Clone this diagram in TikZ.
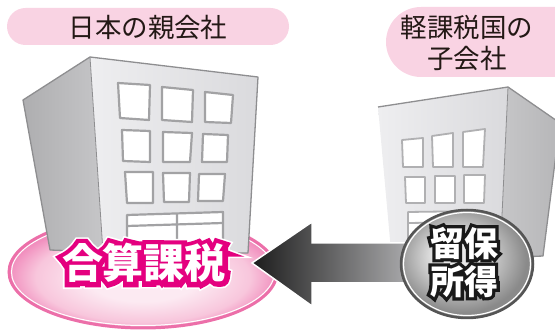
\documentclass[tikz,border=0pt]{standalone}
\usepackage{fontspec}
\newfontfamily\jp{Noto Sans CJK JP}
% stroked variants used for the outlined captions
\newfontfamily\jpthick{Noto Sans CJK JP}[BoldFeatures={FakeBold=23}]
\newfontfamily\jphalo{Noto Sans CJK JP}[BoldFeatures={FakeBold=31}]
\newfontfamily\jpdisc{Noto Sans CJK JP}[BoldFeatures={FakeBold=19}]
\usetikzlibrary{calc}

\definecolor{pillpink}{HTML}{F9D3E3}
\definecolor{inkdark}{HTML}{231815}
\definecolor{magentaink}{HTML}{E4007F}
\definecolor{ringpink}{HTML}{EC6FA9}
\definecolor{glowA}{HTML}{FCEAF2}
\definecolor{glowB}{HTML}{F8C6DC}
\definecolor{glowC}{HTML}{F18FBE}
\definecolor{wallA}{HTML}{EEEEF0}
\definecolor{wallB}{HTML}{DADADD}
\definecolor{sideA}{HTML}{AEAEB0}
\definecolor{sideB}{HTML}{C6C6C8}
\definecolor{edgegray}{HTML}{8E8E90}
\definecolor{framegray}{HTML}{A2A2A4}
\definecolor{arrowdark}{HTML}{1C1C1C}
\definecolor{arrowlight}{HTML}{B4B4B6}
\definecolor{discA}{HTML}{E8E8E8}
\definecolor{discB}{HTML}{8A8A8A}
\definecolor{discring}{HTML}{555555}

\pgfdeclareradialshading{pinkglow}{\pgfpoint{0bp}{-4bp}}{%
  color(0bp)=(glowA); color(10bp)=(glowA); color(20bp)=(glowB);
  color(25bp)=(glowC); color(50bp)=(glowC)}
\pgfdeclareradialshading{graydisc}{\pgfpoint{-5bp}{5bp}}{%
  color(0bp)=(discA); color(8bp)=(discA); color(25bp)=(discB);
  color(50bp)=(discB)}

\tikzset{
  label text/.style={font=\jp\fontsize{26.5}{31}\selectfont, text=inkdark,
    align=center, inner sep=0pt},
  bldg edge/.style={draw=edgegray, line width=1.3pt, line join=round},
  win/.style={draw=framegray, line width=2.2pt, fill=white, line join=round},
  winsmall/.style={draw=framegray!85, line width=1.8pt, fill=white, line join=round},
  tax text/.style={inner sep=0pt},
  disc text/.style={inner sep=0pt, align=center},
}

\begin{document}
\begin{tikzpicture}[x=1pt, y=-1pt]
\useasboundingbox (0,0) rectangle (555,331);
\clip (0,0) rectangle (555,331);

% ---- heading pills ----
\fill[pillpink, rounded corners=18.5pt] (7,8) rectangle (289,45);
\node[label text] (parentlbl) at (148,27) {日本の親会社};
\fill[pillpink, rounded corners=35pt] (386,7) rectangle (620,77);
\node[label text] (sublbl) at (467,43) {軽課税国の\\子会社};

% ---- pink base under the parent company ----
\shade[shading=pinkglow] (143,272) ellipse [x radius=134, y radius=56];
\draw[ringpink, line width=3pt] (143,272) ellipse [x radius=134, y radius=56];
\draw[white, line width=1pt] (143,272) ellipse [x radius=131.5, y radius=53.5];

% ---- parent company building ----
\shade[left color=sideA, right color=sideB] (23,100) -- (90,57) -- (103,252) -- (50,250) -- cycle;
\shade[left color=wallA, right color=wallB] (90,57) -- (258,77) -- (248,253) -- (103,252) -- cycle;
\draw[bldg edge] (23,100) -- (90,57) -- (258,77) -- (248,253) -- (103,252) -- (50,250) -- cycle;
\draw[bldg edge, line width=0.8pt] (90,57) -- (103,252);
% windows
\draw[win] (118,83) -- (150,85) -- (149,120) -- (120,118) -- cycle;
\draw[win] (162,87) -- (193,90) -- (192,122) -- (162,120) -- cycle;
\draw[win] (205,92) -- (233,95) -- (231,123) -- (205,122) -- cycle;
\draw[win] (122,130) -- (150,131) -- (150,162) -- (123,161) -- cycle;
\draw[win] (163,132) -- (192,133) -- (190,162) -- (163,162) -- cycle;
\draw[win] (203,134) -- (228,135) -- (227,162) -- (202,162) -- cycle;
\draw[win] (125,172) -- (153,172) -- (153,203) -- (127,203) -- cycle;
\draw[win] (163,173) -- (190,173) -- (189,202) -- (164,202) -- cycle;
\draw[win] (199,174) -- (225,174) -- (223,201) -- (198,201) -- cycle;
% entrance
\draw[win] (127,215) -- (223,212) -- (223,252) -- (127,252) -- cycle;
\draw[framegray, line width=2.2pt] (127,226) -- (223,223) (177,214) -- (177,252);

% ---- subsidiary building ----
\shade[left color=sideB, right color=sideA!90] (508,87) -- (560,123) -- (543,256) -- (500,258) -- cycle;
\shade[left color=wallA, right color=wallB] (378,107) -- (508,87) -- (500,258) -- (392,262) -- cycle;
\draw[bldg edge] (378,107) -- (508,87) -- (560,123) (543,256) -- (500,258) -- (392,262) -- cycle;
\draw[bldg edge] (560,123) -- (543,256);
\draw[bldg edge, line width=0.8pt] (508,87) -- (500,258);
\draw[winsmall] (402,140) -- (423,138) -- (423,167) -- (403,167) -- cycle;
\draw[winsmall] (432,136) -- (453,133) -- (453,167) -- (433,167) -- cycle;
\draw[winsmall] (463,132) -- (485,129) -- (483,167) -- (463,167) -- cycle;
\draw[winsmall] (405,177) -- (425,177) -- (425,203) -- (406,203) -- cycle;
\draw[winsmall] (435,176) -- (455,176) -- (455,203) -- (435,203) -- cycle;
\draw[winsmall] (464,175) -- (485,175) -- (484,203) -- (464,203) -- cycle;
\draw[winsmall] (408,212) -- (480,211) -- (480,255) -- (408,255) -- cycle;
\draw[framegray!85, line width=1.8pt] (408,223) -- (480,222) (444,212) -- (444,255);

% ---- retained income disc (source of the arrow) ----
\coordinate (disc) at (467,264);
% ---- flow arrow towards the parent company ----
\coordinate (tip) at (252,263);
\shade[left color=arrowdark, right color=arrowlight, draw=white, line width=1.5pt, line join=miter]
  (tip) -- (312,222) -- (312,243) -- (420,243) -- (420,283) -- (312,283) -- (312,306) -- cycle;

\shade[shading=graydisc] (disc) ellipse [x radius=66, y radius=54];
\draw[discring, line width=2.5pt] (disc) ellipse [x radius=66, y radius=54];
\draw[white, line width=1.2pt] (disc) ellipse [x radius=63.5, y radius=51.5];
\node[disc text, text=black!90, font=\jpdisc\bfseries\fontsize{34}{38}\selectfont]
  (retainedrim) at (464,262) {留保\\所得};
\node[disc text, text=white, font=\jp\bfseries\fontsize{34}{38}\selectfont]
  (retained) at (retainedrim) {留保\\所得};

% ---- combined taxation label ----
\node[tax text, text=white, font=\jphalo\bfseries\fontsize{41}{41}\selectfont]
  (taxhalo) at (144,263) {合算課税};
\node[tax text, text=magentaink, font=\jpthick\bfseries\fontsize{41}{41}\selectfont]
  (taxrim) at (taxhalo) {合算課税};
\node[tax text, text=white, font=\jp\bfseries\fontsize{41}{41}\selectfont]
  (taxlbl) at (taxhalo) {合算課税};
\end{tikzpicture}
\end{document}
